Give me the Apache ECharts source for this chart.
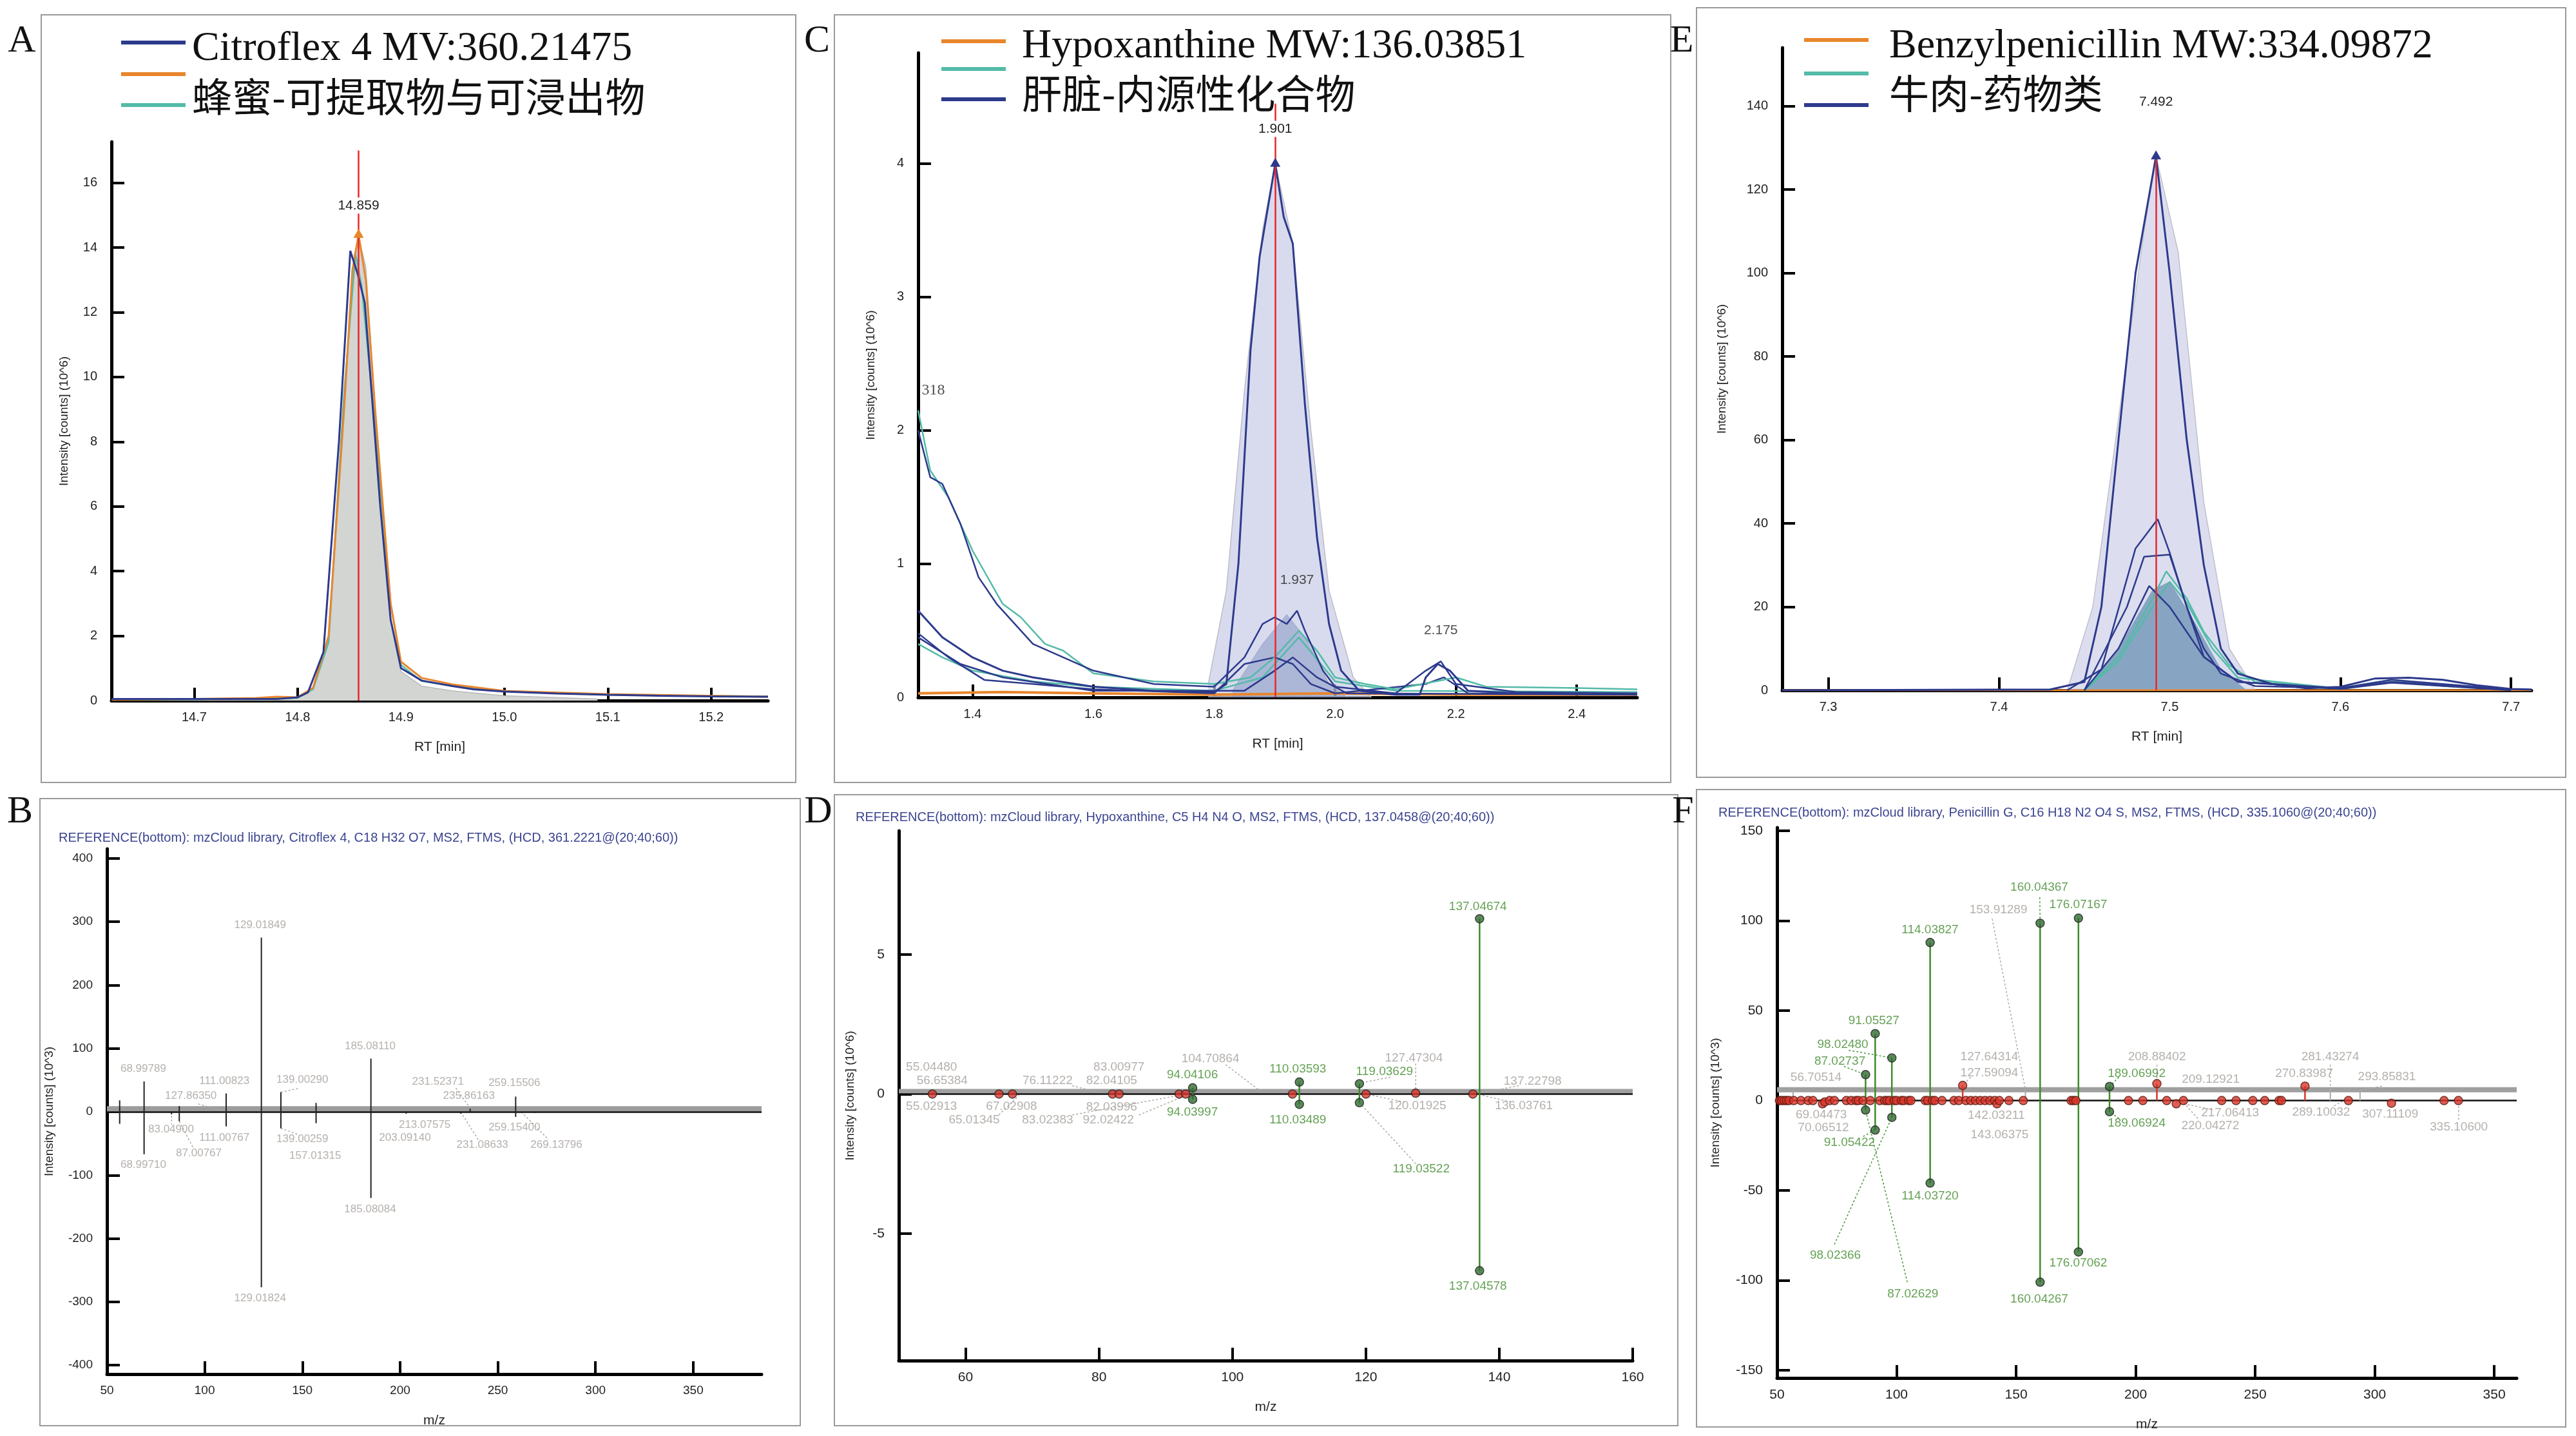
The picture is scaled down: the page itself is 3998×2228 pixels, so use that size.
<!DOCTYPE html>
<html>
<head>
<meta charset="utf-8">
<script src="https://cdn.jsdelivr.net/npm/echarts@6/dist/echarts.min.js"></script>
<style>
html,body{margin:0;padding:0;background:#fff;}
#main{width:3998px;height:2228px;}
</style>
</head>
<body>
<div id="main"></div>
<script>
// ---------- chromatograms (RT [min], intensity 10^6) ----------
var aBlue = [[14.62,0.05],[14.7,0.05],[14.78,0.05],[14.8,0.1],[14.81,0.25],[14.825,1.5],[14.84,8],[14.851,13.9],[14.858,13.2],[14.865,12.3],[14.88,6],[14.89,2.5],[14.9,1.0],[14.92,0.62],[14.95,0.45],[14.97,0.35],[15.0,0.28],[15.05,0.22],[15.1,0.18],[15.15,0.15],[15.2,0.13],[15.255,0.12]];
var aOrange = [[14.62,0.03],[14.7,0.05],[14.76,0.08],[14.78,0.12],[14.8,0.1],[14.815,0.4],[14.83,2.0],[14.845,9],[14.853,13.3],[14.859,14.4],[14.866,13],[14.875,9],[14.89,3],[14.9,1.2],[14.92,0.7],[14.95,0.5],[15.0,0.3],[15.1,0.2],[15.255,0.12]];
var aTeal = [[14.62,0.03],[14.7,0.04],[14.8,0.08],[14.815,0.35],[14.83,1.8],[14.845,9.5],[14.856,13.8],[14.862,12.8],[14.875,8.5],[14.89,3],[14.9,1.1],[14.92,0.6],[14.95,0.45],[15.0,0.3],[15.1,0.18],[15.255,0.13]];
var aFill = [[14.62,0.02],[14.8,0.08],[14.815,0.4],[14.83,2.0],[14.845,9.5],[14.855,13.8],[14.86,14.2],[14.866,13.4],[14.875,9],[14.89,2.5],[14.9,0.9],[14.92,0.45],[14.95,0.3],[15.0,0.15],[15.09,0.05]];

var cBlue1 = [[1.31,0.65],[1.35,0.45],[1.4,0.3],[1.45,0.2],[1.5,0.15],[1.6,0.08],[1.7,0.05],[1.8,0.04],[1.82,0.1],[1.84,1.0],[1.86,2.6],[1.875,3.3],[1.901,4.0],[1.915,3.6],[1.93,3.4],[1.95,2.2],[1.97,1.2],[1.99,0.55],[2.01,0.2],[2.04,0.05],[2.1,0.02],[2.14,0.02],[2.15,0.15],[2.17,0.25],[2.19,0.2],[2.22,0.05],[2.3,0.03],[2.5,0.02]];
var cBlue2 = [[1.31,2.0],[1.33,1.65],[1.35,1.6],[1.38,1.3],[1.41,0.9],[1.44,0.7],[1.47,0.55],[1.5,0.4],[1.55,0.3],[1.6,0.2],[1.7,0.1],[1.8,0.08],[1.85,0.3],[1.88,0.55],[1.9,0.6],[1.92,0.55],[1.937,0.65],[1.95,0.5],[1.98,0.2],[2.0,0.08],[2.1,0.03],[2.15,0.2],[2.175,0.27],[2.2,0.1],[2.3,0.04],[2.5,0.03]];
var cBlue3 = [[1.31,0.48],[1.36,0.3],[1.42,0.13],[1.5,0.1],[1.6,0.06],[1.8,0.03],[1.85,0.25],[1.9,0.3],[1.93,0.25],[1.96,0.1],[2.0,0.03],[2.15,0.1],[2.18,0.15],[2.22,0.03],[2.5,0.02]];
var cBlue4 = [[1.31,0.45],[1.38,0.25],[1.45,0.15],[1.6,0.05],[1.85,0.05],[1.9,0.2],[1.93,0.3],[1.97,0.15],[2.02,0.03],[2.5,0.02]];
var cTeal1 = [[1.31,2.15],[1.33,1.7],[1.36,1.5],[1.4,1.1],[1.45,0.7],[1.48,0.6],[1.52,0.4],[1.55,0.35],[1.6,0.18],[1.7,0.12],[1.8,0.1],[1.86,0.15],[1.9,0.3],[1.94,0.5],[1.97,0.35],[2.0,0.15],[2.05,0.1],[2.1,0.06],[2.2,0.15],[2.25,0.08],[2.4,0.07],[2.5,0.06]];
var cTeal2 = [[1.31,0.4],[1.35,0.3],[1.4,0.2],[1.5,0.12],[1.6,0.08],[1.8,0.05],[1.88,0.15],[1.94,0.45],[2.0,0.12],[2.1,0.05],[2.5,0.04]];
var cOrange = [[1.31,0.03],[1.45,0.04],[1.6,0.03],[1.8,0.02],[2.0,0.03],[2.2,0.02],[2.5,0.02]];
var cFill = [[1.79,0.1],[1.82,0.8],[1.85,2.3],[1.88,3.5],[1.901,4.0],[1.93,3.4],[1.96,2.0],[1.99,0.8],[2.03,0.15],[2.06,0.0]];
var cFillInner = [[1.83,0.05],[1.88,0.4],[1.92,0.62],[1.95,0.45],[1.99,0.1],[2.02,0.0]];

var eBlue1 = [[7.273,0],[7.43,0.2],[7.45,2],[7.46,20],[7.47,60],[7.48,100],[7.492,128],[7.5,100],[7.51,60],[7.52,30],[7.53,10],[7.54,4],[7.56,1.5],[7.58,0.5],[7.6,0.8],[7.62,2.8],[7.64,3],[7.66,2.5],[7.68,1.2],[7.7,0.3],[7.712,0.2]];
var eBlue2 = [[7.44,0],[7.46,5],[7.48,34],[7.493,41],[7.5,33],[7.51,20],[7.52,10],[7.53,4],[7.55,1],[7.6,0.5],[7.63,2.5],[7.66,1.5],[7.7,0.2]];
var eBlue3 = [[7.45,0],[7.475,20],[7.485,32],[7.5,32.5],[7.51,20],[7.52,8],[7.54,2],[7.6,0.5],[7.63,2],[7.7,0.2]];
var eBlue4 = [[7.45,0],[7.47,10],[7.488,25],[7.5,20],[7.52,8],[7.54,2],[7.6,0.3],[7.63,1.8],[7.7,0]];
var eTeal1 = [[7.45,0],[7.47,8],[7.49,22],[7.498,28.5],[7.51,22],[7.52,14],[7.535,6],[7.55,2],[7.6,0.5],[7.63,2.5],[7.66,1],[7.7,0.2]];
var eTeal2 = [[7.45,0],[7.47,7],[7.49,20],[7.5,26],[7.51,21],[7.525,10],[7.54,3],[7.6,0.4],[7.63,2],[7.7,0.1]];
var eOrange = [[7.273,0],[7.712,0]];
var eFill = [[7.44,0],[7.455,20],[7.47,65],[7.485,110],[7.492,128],[7.505,105],[7.52,45],[7.535,10],[7.55,0]];
var eFillInner = [[7.45,0],[7.47,10],[7.49,24],[7.5,26],[7.515,16],[7.53,5],[7.545,0]];

// peaks: [rt, apex, label height, red line top]
var aPeak = [14.859, 14.4, 15.3, 17.0];
var cPeak = [1.901, 4.0, 4.26, 4.45];
var ePeak = [7.492, 128, 141, 129];
var cExtraLabels = [[1.937, 0.88, '1.937'], [2.175, 0.5, '2.175']];

// ---------- MS2 spectra: [m/z, intensity] ----------
var bPeaks = [[56.5,18],[56.5,-19],[68.998,48],[68.997,-67],[83.049,-4],[87.008,9],[87.008,-15],[111.008,29],[111.008,-23],[129.018,275],[129.018,-277],[139.003,31],[139.003,-26],[157.013,14],[157.013,-18],[185.081,84],[185.081,-136],[203.091,-3],[231.086,-3],[235.86,5],[259.155,24],[259.154,-8],[269.138,-2]];
var bLabels = [[128.4,295,'129.01849'],[184.7,103,'185.08110'],[68.6,68,'68.99789'],[110.1,49,'111.00823'],[150,51,'139.00290'],[92.9,25,'127.86350'],[219.4,47,'231.52371'],[258.5,45,'259.15506'],[235.2,25,'235.86163'],[82.8,-28,'83.04900'],[110.1,-41,'111.00767'],[150,-43,'139.00259'],[97,-65,'87.00767'],[156.6,-69,'157.01315'],[212.6,-21,'213.07575'],[202.5,-41,'203.09140'],[258.5,-25,'259.15400'],[242.1,-52,'231.08633'],[280,-52,'269.13796'],[68.6,-84,'68.99710'],[184.7,-154,'185.08084'],[128.4,-294,'129.01824']];
var bLeaders = [[139.0,31,148,37],[139.0,-26,148,-36],[87.0,-15,94,-56],[83.05,0,83.05,-20],[111,0,96,13],[231,0,240,-44],[236,5,228,40],[262,0,276,-44]];

var dGreen = [[94.041,0.22],[94.04,-0.19],[110.036,0.43],[110.035,-0.37],[119.036,0.37],[119.035,-0.31],[137.047,6.28],[137.046,-6.33]];
var dRed = [[55.03,0],[65.01,0],[67.03,0],[82.04,0],[83.02,0],[92.02,0],[93.0,0],[109.0,0],[120.02,0],[127.47,0.03],[136.04,0]];
var dGrayLabels = [[54.9,0.95,'55.04480'],[56.5,0.48,'56.65384'],[83,0.97,'83.00977'],[81.9,0.48,'82.04105'],[72.3,0.48,'76.11222'],[96.7,1.25,'104.70864'],[127.2,1.28,'127.47304'],[145,0.46,'137.22798'],[54.9,-0.44,'55.02913'],[66.9,-0.44,'67.02908'],[61.3,-0.93,'65.01345'],[81.9,-0.47,'82.03996'],[72.3,-0.93,'83.02383'],[81.4,-0.93,'92.02422'],[127.7,-0.43,'120.01925'],[143.7,-0.43,'136.03761']];
var dGreenLabels = [[136.8,6.71,'137.04674'],[136.8,-6.89,'137.04578'],[94,0.68,'94.04106'],[109.8,0.9,'110.03593'],[122.8,0.79,'119.03629'],[94,-0.66,'94.03997'],[109.8,-0.93,'110.03489'],[128.3,-2.69,'119.03522']];
var dLeaders = [[99,1.05,104.5,0.05],[76,0.3,80,0.05],[65,-0.75,68,-0.05],[76,-0.75,92,-0.05],[86,-0.75,93,-0.05],[120,0.43,124,0.62],[119.04,-0.31,127.5,-2.5],[121,-0.05,126,-0.3],[137.5,-0.05,142,-0.3],[137.5,0.05,143,0.3],[127.47,0.05,127.47,1.1]];

var fGreen = [[87.027,14.4],[87.026,-5.3],[91.055,37.2],[91.054,-16.4],[98.025,23.7],[98.024,-9.4],[114.038,87.9],[114.037,-45.9],[160.044,98.6],[160.043,-101],[176.072,101.4],[176.071,-84.2],[189.07,7.8],[189.069,-6.2]];
var fRedStems = [[127.64,8.4],[208.88,9.4],[270.84,8]];
var fRed = [[51,0],[52,0],[53,0],[54,0],[55,0],[57,0],[60,0],[63,0],[65,0],[69,-1.8],[70,-0.8],[72,0],[74,0],[79,0],[81,0],[83,0],[84,0],[86,0],[89,0],[93,0],[95,0],[96,0],[97,0],[99,0],[100,0],[102,0],[103,0],[105,0],[106,0],[112,0],[113,0],[115,0],[116,0],[119,0],[124,0],[126,0],[129,0],[131,0],[133,0],[135,0],[137,0],[139,0],[141,0],[142,-1.8],[143,0],[147,0],[153,0],[173,0],[174,0],[175,0],[197,0],[203,0],[213,0],[217,-1.8],[220,0],[236,0],[242,0],[249,0],[254,0],[260,0],[261,0],[289,0],[307,-1.5],[329,0],[335,0],[127.64,8.4],[208.88,9.4],[270.84,8]];
var fGrayStems = [[56.7,6],[153.9,6],[281.43,7],[293.86,6]];
var fGrayLabels = [[142.6,105.9,'153.91289'],[66.3,12.8,'56.70514'],[138.8,24.4,'127.64314'],[138.8,15.5,'127.59094'],[208.9,24.4,'208.88402'],[231.4,11.6,'209.12921'],[281.4,24.4,'281.43274'],[270.5,15,'270.83987'],[305.1,13,'293.85831'],[68.5,-8,'69.04473'],[69.4,-15,'70.06512'],[141.7,-8.2,'142.03211'],[143.1,-19.2,'143.06375'],[239.5,-7,'217.06413'],[231.2,-14.2,'220.04272'],[277.6,-6.4,'289.10032'],[306.5,-7.5,'307.11109'],[335.2,-14.8,'335.10600']];
var fGreenLabels = [[159.7,118.5,'160.04367'],[176,108.7,'176.07167'],[114,95,'114.03827'],[90.5,44.3,'91.05527'],[77.5,31,'98.02480'],[76.3,21.9,'87.02737'],[80.3,-23.3,'91.05422'],[200.4,15,'189.06992'],[200.4,-12.6,'189.06924'],[114,-53.2,'114.03720'],[74.4,-86,'98.02366'],[106.8,-107.5,'87.02629'],[176,-90.4,'176.07062'],[159.7,-110.5,'160.04267']];
var fGreenLeaders = [[74,-80,98.02,-9.4],[104.5,-101,87.03,-5.3],[86,-20,91.05,-16.4],[80,28,98.02,23.7],[78,19,87.03,14.4],[159.9,113,160.04,98.6],[193,13,189.07,7.8],[193,-10,189.07,-6.2]];
var fGrayLeaders = [[140,101,153.9,6],[131,13,127.64,8.4],[208.9,20,208.88,9.4],[226,-10,220,-1],[217,-1,232,-5],[281.43,20,281.43,6],[283,-3,287,0],[335.1,-1,335.1,-11],[142,-1,142,-5],[303,8,293.86,5.6],[70,-2,70,-4]];

// ---------- tick labels ----------
var aXTicks = [14.7,14.8,14.9,15.0,15.1,15.2], aYTicks = [0,2,4,6,8,10,12,14,16];
var cXTicks = [1.4,1.6,1.8,2.0,2.2,2.4], cYTicks = [0,1,2,3,4];
var eXTicks = [7.3,7.4,7.5,7.6,7.7], eYTicks = [0,20,40,60,80,100,120,140];
var bXTicks = [50,100,150,200,250,300,350], bYTicks = [-400,-300,-200,-100,0,100,200,300,400];
var dXTicks = [60,80,100,120,140,160], dYTicks = [-5,0,5];
var fXTicks = [50,100,150,200,250,300,350], fYTicks = [-150,-100,-50,0,50,100,150];

var NAVY = '#2d3a8c', ORANGE = '#e8862c', TEAL = '#53bba8', RED = '#e8262a';
var GREEN = '#3f8a2a', GRAYTXT = '#a39c97';

var chart = echarts.init(document.getElementById('main'));

var grids = [
  {left:173, top:220, width:1019, height:867},
  {left:1425, top:82, width:1116, height:1000},
  {left:2766, top:74, width:1163, height:997},
  {left:166, top:1317, width:1016, height:815},
  {left:1395, top:1289, width:1139, height:822},
  {left:2758, top:1284, width:1148, height:854}
];

function xAx(gi, min, max, ticks, dec, name, fs){
  return {type:'value', gridIndex:gi, min:min, max:max, name:name, nameLocation:'middle', nameGap:62,
    nameTextStyle:{fontFamily:'Liberation Sans', fontSize:21, color:'#222'},
    axisLine:{onZero:false, lineStyle:{color:'#000', width:5}},
    axisTick:{inside:true, length:20, lineStyle:{width:4, color:'#000'}, customValues:ticks},
    axisLabel:{customValues:ticks, margin:16, fontFamily:'Liberation Sans', fontSize:fs, color:'#222',
      formatter:function(v){return v.toFixed(dec);}},
    splitLine:{show:false}};
}
function yAx(gi, min, max, ticks, name, fs, gap){
  return {type:'value', gridIndex:gi, min:min, max:max, name:name, nameLocation:'middle', nameGap:gap,
    nameRotate:90, nameTextStyle:{fontFamily:'Liberation Sans', fontSize:19, color:'#222'},
    axisLine:{onZero:false, lineStyle:{color:'#000', width:5}},
    axisTick:{inside:true, length:20, lineStyle:{width:4, color:'#000'}, customValues:ticks},
    axisLabel:{customValues:ticks, margin:22, fontFamily:'Liberation Sans', fontSize:fs, color:'#222'},
    splitLine:{show:false}};
}

var xAxes = [
  xAx(0,14.62,15.255,aXTicks,1,'RT [min]',20),
  xAx(1,1.31,2.5,cXTicks,1,'RT [min]',20),
  xAx(2,7.273,7.712,eXTicks,1,'RT [min]',20),
  xAx(3,50,385,bXTicks,0,'m/z',19),
  xAx(4,50,160,dXTicks,0,'m/z',21),
  xAx(5,50,359.4,fXTicks,0,'m/z',21)
];
var yAxes = [
  yAx(0,0,17.27,aYTicks,'Intensity [counts] (10^6)',20,64),
  yAx(1,0,4.83,cYTicks,'Intensity [counts] (10^6)',20,64),
  yAx(2,0,154,eYTicks,'Intensity [counts] (10^6)',20,84),
  yAx(3,-414,415,bYTicks,'Intensity [counts] (10^3)',19,80),
  yAx(4,-9.55,9.43,dYTicks,'Intensity [counts] (10^6)',21,66),
  yAx(5,-154.3,151.8,fYTicks,'Intensity [counts] (10^3)',21,86)
];

var series = [];
function line(gi, data, color, width, fill, z){
  series.push({type:'line', xAxisIndex:gi, yAxisIndex:gi, data:data, showSymbol:false, silent:true, z:z||3,
    lineStyle:{color:color, width:width},
    areaStyle: fill ? {color:fill, opacity:1} : undefined});
}
function peakMark(gi, pk, triColor){
  series.push({type:'line', xAxisIndex:gi, yAxisIndex:gi, data:[], silent:true, z:6,
    markLine:{symbol:'none', silent:true, label:{show:false}, lineStyle:{color:RED, width:2.5, type:'solid'},
      data:[[{coord:[pk[0],0]},{coord:[pk[0],pk[3]]}]]},
    markPoint:{silent:true, data:[
      {coord:[pk[0],pk[1]], symbol:'triangle', symbolSize:[16,14], symbolOffset:[0,-2], itemStyle:{color:triColor}, label:{show:false}},
      {coord:[pk[0],pk[2]], symbol:'circle', symbolSize:0, label:{show:true, formatter:pk[0].toFixed(3), color:'#222', fontSize:21, fontFamily:'Liberation Sans', backgroundColor:'#fff', padding:[2,3]}}
    ]}});
}
function labels(gi, data, color, fs, family){
  series.push({type:'scatter', xAxisIndex:gi, yAxisIndex:gi, data:data, symbolSize:0, silent:true, z:8,
    label:{show:true, position:'inside', formatter:function(p){return p.data[2];}, color:color, fontSize:fs, fontFamily:family||'Liberation Sans'}});
}
function leaders(gi, data, color){
  series.push({type:'custom', xAxisIndex:gi, yAxisIndex:gi, data:data, silent:true, z:4,
    renderItem:function(params, api){
      var p0 = api.coord([api.value(0),api.value(1)]), p1 = api.coord([api.value(2),api.value(3)]);
      return {type:'line', shape:{x1:p0[0],y1:p0[1],x2:p1[0],y2:p1[1]}, style:{stroke:color, lineWidth:1.5, lineDash:[3,3]}};
    }});
}
function stems(gi, data, color, width, dots, dotColor, band, bandColor){
  var s = {type:'custom', xAxisIndex:gi, yAxisIndex:gi, data:data, silent:true, z:5,
    renderItem:function(params, api){
      var p0 = api.coord([api.value(0),0]), p1 = api.coord([api.value(0),api.value(1)]);
      return {type:'line', shape:{x1:p0[0],y1:p0[1],x2:p1[0],y2:p1[1]}, style:{stroke:color, lineWidth:width}};
    }};
  if (band) {
    s.markArea = {silent:true, itemStyle:{color:bandColor}, data:[[{yAxis:band[0]},{yAxis:band[1]}]]};
    s.markLine = {symbol:'none', silent:true, label:{show:false}, lineStyle:{color:'#111', width:2.5, type:'solid'}, data:[{yAxis:0}]};
  }
  series.push(s);
  if (dots) {
    series.push({type:'scatter', xAxisIndex:gi, yAxisIndex:gi, data:data, symbolSize:13, silent:true, z:7,
      itemStyle:{color:dotColor, borderColor:'#222', borderWidth:1.5}});
  }
}

// A
line(0, aFill, '#b8bab7', 1.5, '#d3d5d2', 2);
line(0, aTeal, TEAL, 2.5);
line(0, aOrange, ORANGE, 3);
line(0, aBlue, NAVY, 3);
peakMark(0, aPeak, ORANGE);
// C
line(1, cFill, '#bcbcc8', 1.5, 'rgba(200,204,230,0.7)', 2);
line(1, cFillInner, '#9aa0c0', 1, 'rgba(120,140,190,0.45)', 2);
line(1, cOrange, ORANGE, 4);
line(1, cTeal2, TEAL, 2.5);
line(1, cBlue4, NAVY, 2.5);
line(1, cBlue3, NAVY, 2.5);
line(1, cTeal1, TEAL, 2.5);
line(1, cBlue2, NAVY, 2.5);
line(1, cBlue1, NAVY, 3);
peakMark(1, cPeak, NAVY);
labels(1, cExtraLabels, '#222', 21);
labels(1, [[1.335, 2.3, '318']], '#222', 24, 'Liberation Serif');
// E
line(2, eFill, '#c0c0cc', 1.5, 'rgba(205,208,232,0.7)', 2);
line(2, eFillInner, '#8aa4bf', 1, '#87a5c2', 2);
line(2, eOrange, ORANGE, 3);
line(2, eTeal2, TEAL, 2.5);
line(2, eTeal1, TEAL, 2.5);
line(2, eBlue4, NAVY, 2.5);
line(2, eBlue3, NAVY, 2.5);
line(2, eBlue2, NAVY, 2.5);
line(2, eBlue1, NAVY, 3);
peakMark(2, ePeak, NAVY);
// B
stems(3, bPeaks, '#222', 2, false, null, [0,9], '#9c9c9c');
leaders(3, bLeaders, '#b0aaa5');
labels(3, bLabels, GRAYTXT, 17);
// D
stems(4, dRed, '#c03020', 2, true, '#d9362a', [0,0.18], '#a0a0a0');
stems(4, dGreen, GREEN, 2.5, true, '#2f6b2f');
leaders(4, dLeaders, '#b0aaa5');
labels(4, dGrayLabels, GRAYTXT, 19);
labels(4, dGreenLabels, GREEN, 19);
// F
stems(5, fGrayStems, '#aaa', 2, false, null, [4.6,7.4], '#a0a0a0');
stems(5, fRedStems, '#d9362a', 2.5, false);
series.push({type:'scatter', xAxisIndex:5, yAxisIndex:5, data:fRed, symbolSize:13, silent:true, z:6,
  itemStyle:{color:'#d9362a', borderColor:'#5a1a10', borderWidth:1.5}});
stems(5, fGreen, GREEN, 2.5, true, '#2f6b2f');
leaders(5, fGreenLeaders, '#4a9a3a');
leaders(5, fGrayLeaders, '#b0aaa5');
labels(5, fGrayLabels, GRAYTXT, 19);
labels(5, fGreenLabels, GREEN, 19);

// frames, panel letters, legends, spectrum titles
var frames = [[64,23,1171,1191],[1295,23,1298,1191],[2633,12,1349,1194],[62,1239,1180,973],[1295,1233,1309,979],[2633,1225,1349,989]];
var letters = [['A',34,64],['C',1268,64],['E',2610,64],['B',31,1260],['D',1270,1260],['F',2612,1260]];
var graphics = [];
frames.forEach(function(f){
  graphics.push({type:'rect', shape:{x:f[0],y:f[1],width:f[2],height:f[3]}, style:{fill:'none', stroke:'#9a9a9a', lineWidth:2}, z:0});
});
letters.forEach(function(l){
  graphics.push({type:'text', x:l[1], y:l[2], style:{text:l[0], font:'60px "Liberation Serif"', fill:'#111', align:'center', verticalAlign:'middle'}, z:10});
});
function legend(x, ys, colors, textX, t1y, t2y, t1, t2){
  colors.forEach(function(c, i){
    graphics.push({type:'line', shape:{x1:x, y1:ys[i], x2:x+100, y2:ys[i]}, style:{stroke:c, lineWidth:6}, z:10});
  });
  graphics.push({type:'text', x:textX, y:t1y, style:{text:t1, font:'64px "Liberation Serif"', fill:'#111', verticalAlign:'middle'}, z:10});
  graphics.push({type:'text', x:textX, y:t2y, style:{text:t2, font:'62px "Noto Sans CJK SC"', fill:'#111', verticalAlign:'middle'}, z:10});
}
legend(188, [66,115,163], [NAVY, ORANGE, TEAL], 298, 76, 150, 'Citroflex 4 MV:360.21475', '蜂蜜-可提取物与可浸出物');
legend(1461, [64,107,154], [ORANGE, TEAL, NAVY], 1586, 72, 145, 'Hypoxanthine MW:136.03851', '肝脏-内源性化合物');
legend(2800, [62,114,163], [ORANGE, TEAL, NAVY], 2932, 72, 145, 'Benzylpenicillin MW:334.09872', '牛肉-药物类');
var spTitles = [
  [91,1300,'REFERENCE(bottom): mzCloud library, Citroflex 4, C18 H32 O7, MS2, FTMS, (HCD, 361.2221@(20;40;60))'],
  [1328,1268,'REFERENCE(bottom): mzCloud library, Hypoxanthine, C5 H4 N4 O, MS2, FTMS, (HCD, 137.0458@(20;40;60))'],
  [2667,1261,'REFERENCE(bottom): mzCloud library, Penicillin G, C16 H18 N2 O4 S, MS2, FTMS, (HCD, 335.1060@(20;40;60))']
];
spTitles.forEach(function(t){
  graphics.push({type:'text', x:t[0], y:t[1], style:{text:t[2], font:'20px "Liberation Sans"', fill:'#3b4490', verticalAlign:'middle'}, z:10});
});

chart.setOption({
  animation:false,
  backgroundColor:'#fff',
  grid:grids,
  xAxis:xAxes,
  yAxis:yAxes,
  series:series,
  graphic:graphics
});
</script>
</body>
</html>
